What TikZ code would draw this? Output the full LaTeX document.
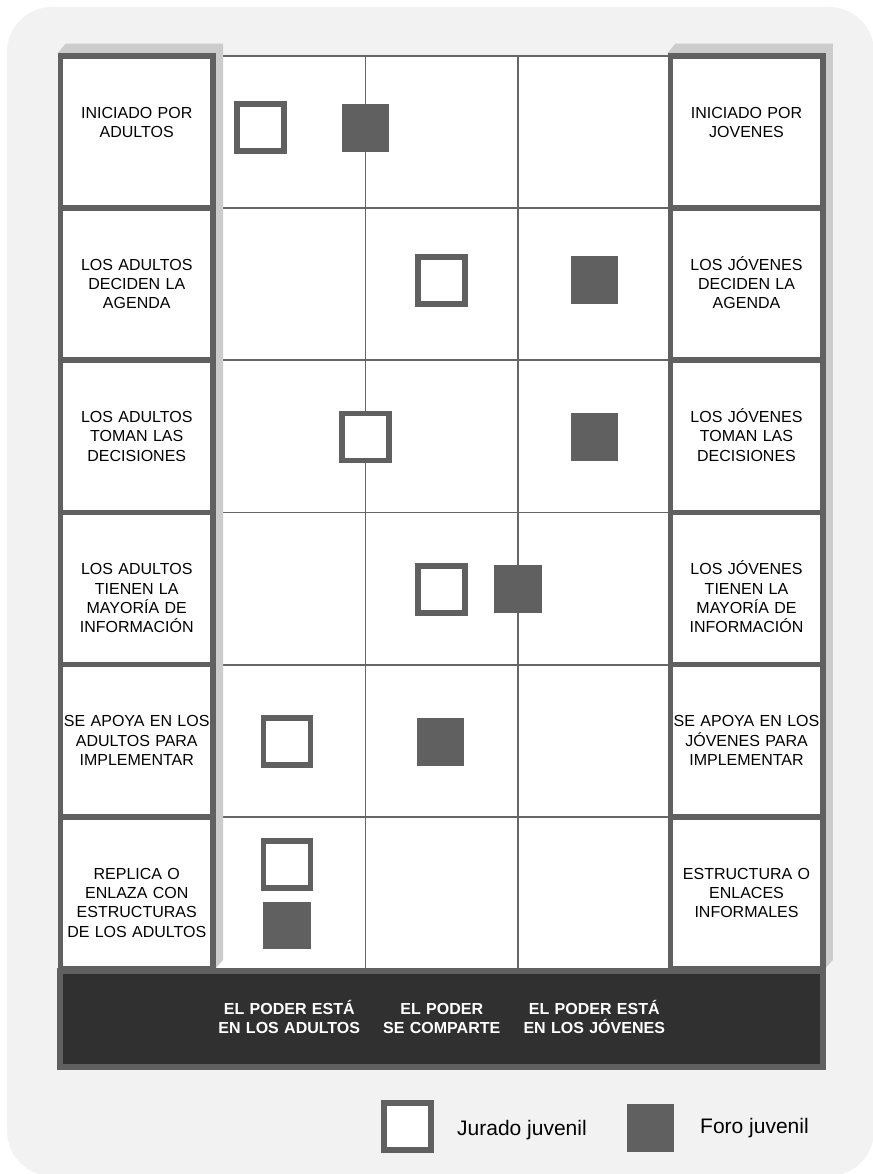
\documentclass[tikz,border=0pt]{standalone}
\usepackage{fontspec}
\setsansfont{Liberation Sans}
\usetikzlibrary{positioning, calc, backgrounds}
\definecolor{cPanel}{HTML}{F2F2F2}
\definecolor{cBorder}{HTML}{606060}
\definecolor{cGrid}{HTML}{666666}
\definecolor{cShadow}{HTML}{CCCCCC}
\definecolor{cBar}{HTML}{303030}
\tikzset{
  font=\sffamily,
  cell/.style={draw=cBorder, fill=white, line width=5.5pt, minimum width=152.5pt,
    minimum height=152.2pt, inner sep=0pt, outer sep=0pt},
  celltext/.style={font=\sffamily\fontsize{16}{19.3}\selectfont, align=center,
    text width=152pt, inner sep=0pt, anchor=base},
  gridline/.style={draw=cGrid, line width=1.8pt},
  shadowfill/.style={fill=cShadow},
  jurado/.style={draw=cBorder, fill=white, line width=5.5pt, minimum size=47pt, inner sep=0pt},
  foro/.style={fill=cBorder, minimum size=47.5pt, inner sep=0pt},
  powerbar/.style={draw=cBorder, fill=cBar, line width=6pt, minimum width=762.5pt,
    minimum height=96pt, inner sep=0pt},
  barlabel/.style={font=\sffamily\bfseries\fontsize{16}{19}\selectfont, text=white,
    align=center, text width=150pt, inner sep=0pt, anchor=base},
  legendtext/.style={font=\sffamily\fontsize{21}{25}\selectfont, inner sep=0pt, anchor=base west},
}
\begin{document}
\begin{tikzpicture}[x=1pt, y=-1pt]
  \useasboundingbox (0,0) rectangle (872,1174);

  % --- left column: adults ---
  \node[cell] (l1) at (136.75,131.9) {};
  \node[cell, below=0pt of l1] (l2) {};
  \node[cell, below=0pt of l2] (l3) {};
  \node[cell, below=0pt of l3] (l4) {};
  \node[cell, below=0pt of l4] (l5) {};
  \node[cell, below=0pt of l5] (l6) {};

  \node[celltext] (tl1) at ($(l1.north)+(0,62.3)$) {INICIADO POR\\ADULTOS};
  \node[celltext] (tl2) at ($(l2.north)+(0,62.3)$) {LOS ADULTOS\\DECIDEN LA\\AGENDA};
  \node[celltext] (tl3) at ($(l3.north)+(0,62.3)$) {LOS ADULTOS\\TOMAN LAS\\DECISIONES};
  \node[celltext] (tl4) at ($(l4.north)+(0,62.3)$) {LOS ADULTOS\\TIENEN LA\\MAYORÍA DE\\INFORMACIÓN};
  \node[celltext] (tl5) at ($(l5.north)+(0,62.3)$) {SE APOYA EN LOS\\ADULTOS PARA\\IMPLEMENTAR};
  \node[celltext] (tl6) at ($(l6.north)+(0,62.3)$) {REPLICA O\\ENLAZA CON\\ESTRUCTURAS\\DE LOS ADULTOS};

  % --- right column: youth ---
  \node[cell] (r1) at (746.5,131.9) {};
  \node[cell, below=0pt of r1] (r2) {};
  \node[cell, below=0pt of r2] (r3) {};
  \node[cell, below=0pt of r3] (r4) {};
  \node[cell, below=0pt of r4] (r5) {};
  \node[cell, below=0pt of r5] (r6) {};

  \node[celltext] (tr1) at ($(r1.north)+(0,62.3)$) {INICIADO POR\\JOVENES};
  \node[celltext] (tr2) at ($(r2.north)+(0,62.3)$) {LOS JÓVENES\\DECIDEN LA\\AGENDA};
  \node[celltext] (tr3) at ($(r3.north)+(0,62.3)$) {LOS JÓVENES\\TOMAN LAS\\DECISIONES};
  \node[celltext] (tr4) at ($(r4.north)+(0,62.3)$) {LOS JÓVENES\\TIENEN LA\\MAYORÍA DE\\INFORMACIÓN};
  \node[celltext] (tr5) at ($(r5.north)+(0,62.3)$) {SE APOYA EN LOS\\JÓVENES PARA\\IMPLEMENTAR};
  \node[celltext] (tr6) at ($(r6.north)+(0,62.3)$) {ESTRUCTURA O\\ENLACES\\INFORMALES};

  % --- markers ---
  \node[jurado] (j1) at (260.5,127.5) {};
  \node[foro]   (f1) at (365.5,128) {};
  \node[jurado] (j2) at (441.5,280.5) {};
  \node[foro]   (f2) at (594.5,280) {};
  \node[jurado] (j3) at (365.5,437) {};
  \node[foro]   (f3) at (594.5,437) {};
  \node[jurado] (j4) at (441.5,589.5) {};
  \node[foro]   (f4) at (518,589) {};
  \node[jurado] (j5) at (287,741.5) {};
  \node[foro]   (f5) at (440.5,742) {};
  \node[jurado] (j6) at (287,864.5) {};
  \node[foro]   (f6) at (287,925.5) {};

  % --- power bar ---
  \node[powerbar] (bar) at (441.25,1019) {};
  \node[barlabel] (p1) at (289.25,1014) {EL PODER ESTÁ\\EN LOS ADULTOS};
  \node[barlabel] (p2) at (441.75,1014) {EL PODER\\SE COMPARTE};
  \node[barlabel] (p3) at (594.25,1014) {EL PODER ESTÁ\\EN LOS JÓVENES};

  % --- legend ---
  \node[jurado] (legj) at (407.5,1126.5) {};
  \node[legendtext] (legjt) at (457,1135) {Jurado juvenil};
  \node[foro] (legf) at (650.5,1128) {};
  \node[legendtext] (legft) at (700,1133) {Foro juvenil};

  % --- panel, grid and shadows behind ---
  \begin{pgfonlayer}{background}
    \fill[cPanel, rounded corners=45pt] (7,7) rectangle (874,1176);
    \fill[white] (l1.north east) rectangle (r6.south west);
    \draw[gridline] (l1.north east) -- (r1.north west);
    \draw[gridline] (l1.south east) -- (r1.south west);
    \draw[gridline] (l2.south east) -- (r2.south west);
    \draw[gridline] (l3.south east) -- (r3.south west);
    \draw[gridline] (l4.south east) -- (r4.south west);
    \draw[gridline] (l5.south east) -- (r5.south west);
    \draw[gridline] ($(l1.north east)!1/3!(r1.north west)$) -- ($(l6.south east)!1/3!(r6.south west)$);
    \draw[gridline] ($(l1.north east)!2/3!(r1.north west)$) -- ($(l6.south east)!2/3!(r6.south west)$);
    \fill[shadowfill] ($(l1.north west)+(-2.75,-2.75)$) -- ++(8,-9.5)
      -| ($(l6.south east)+(10,-9)$) -- ++(-8,9) -- cycle;
    \fill[shadowfill] ($(r1.north west)+(-2.75,-2.75)$) -- ++(8,-9.5)
      -| ($(r6.south east)+(10,-9)$) -- ++(-8,9) -- cycle;
  \end{pgfonlayer}
\end{tikzpicture}
\end{document}
